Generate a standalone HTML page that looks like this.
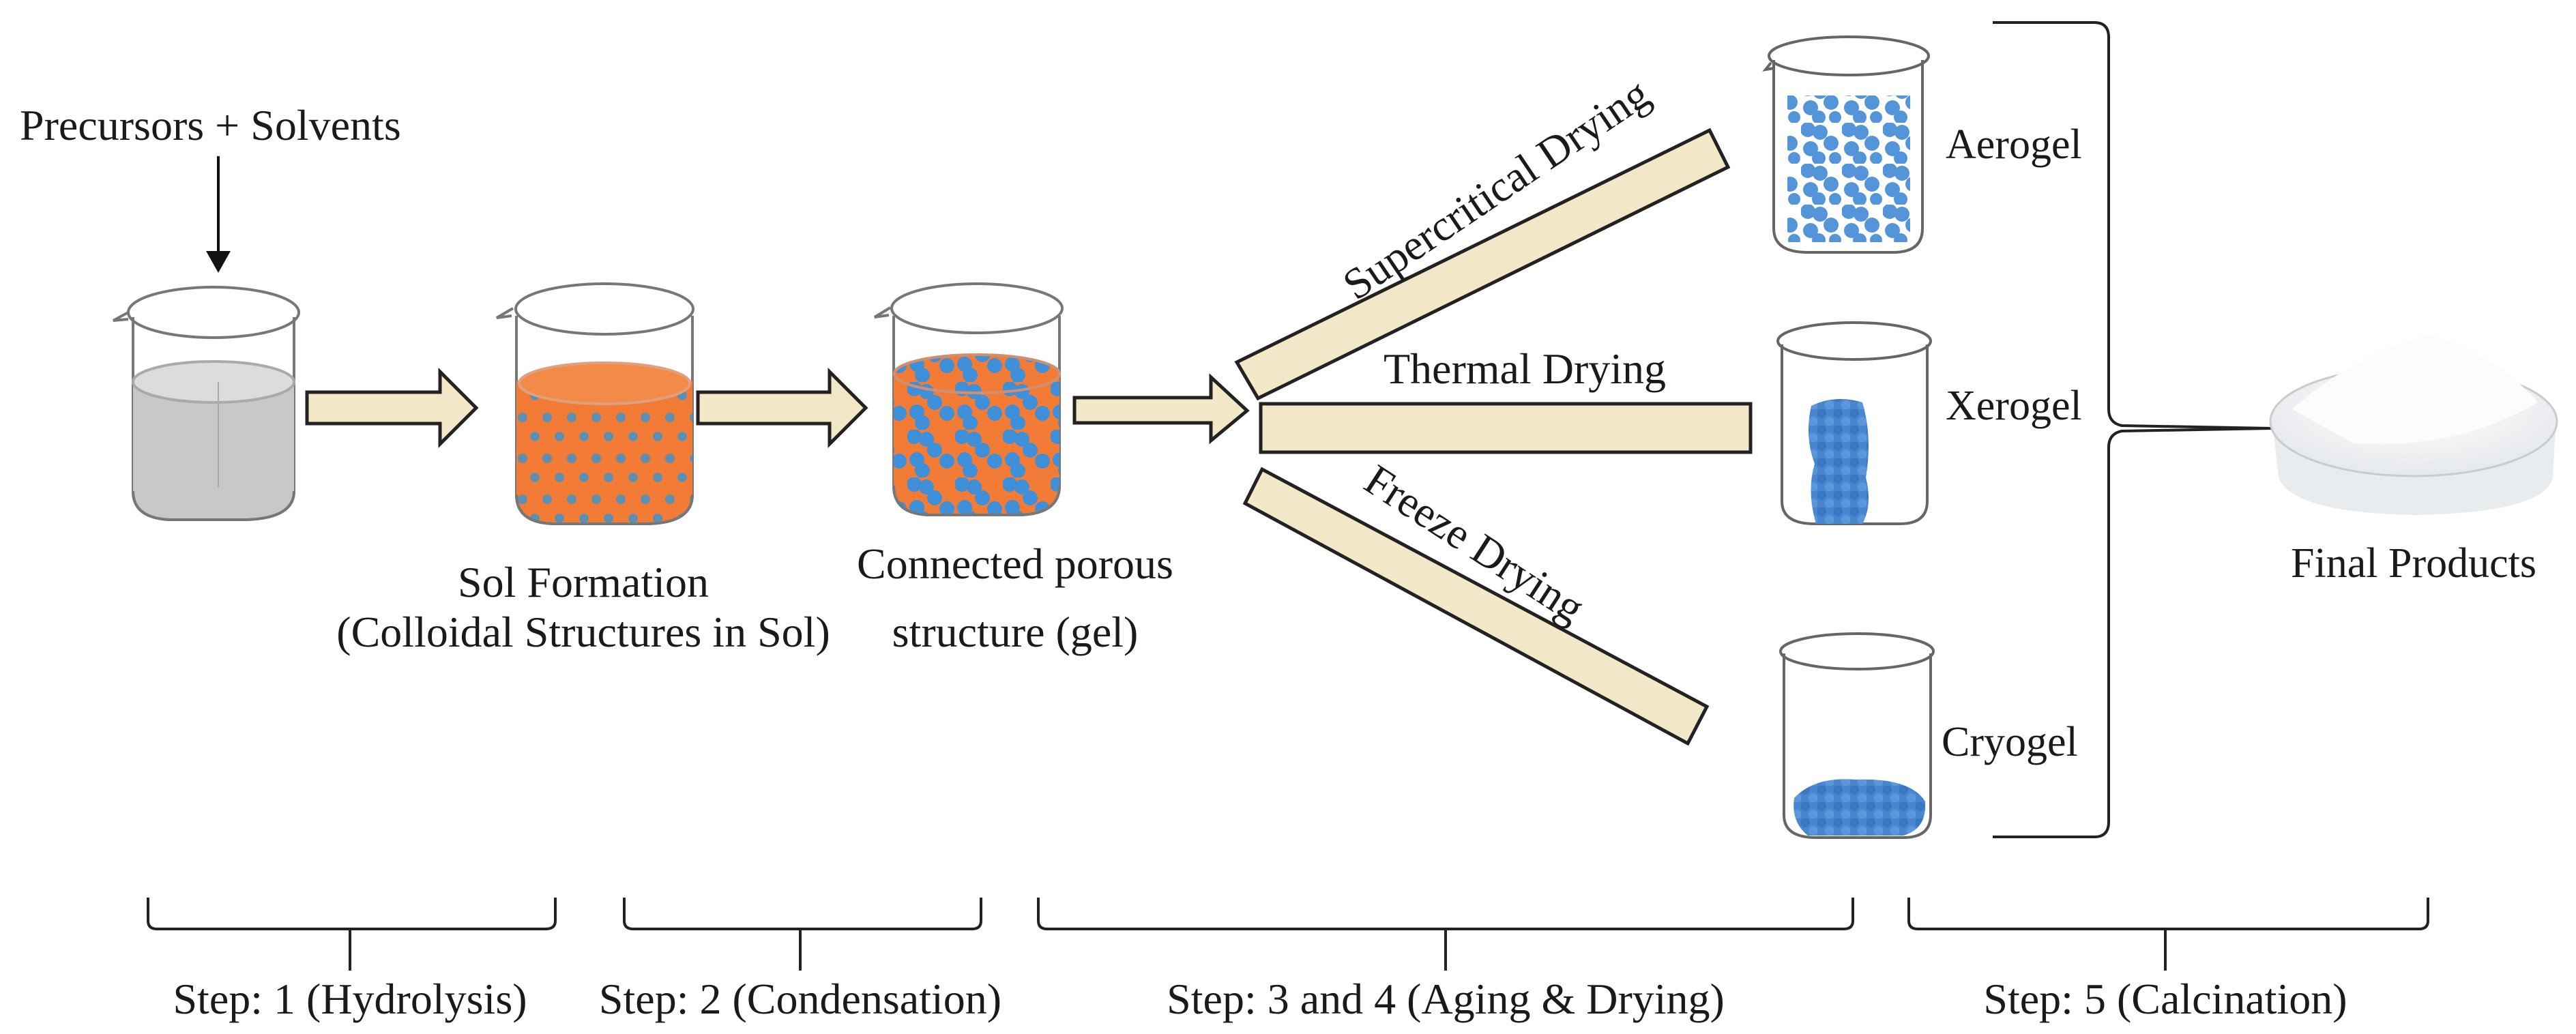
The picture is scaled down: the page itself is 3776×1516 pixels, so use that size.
<!DOCTYPE html>
<html><head><meta charset="utf-8"><style>
html,body{margin:0;padding:0;background:#fff}
svg{display:block}
text{font-family:"Liberation Serif",serif;fill:#1a1a1a}
</style></head><body>
<svg width="3776" height="1516" viewBox="0 0 3776 1516" xmlns="http://www.w3.org/2000/svg">
<defs>
<pattern id="sol" width="36" height="60" patternUnits="userSpaceOnUse">
<rect width="36" height="60" fill="#f27c35"/>
<circle cx="10" cy="12" r="7" fill="#5d8fb3"/><circle cx="28" cy="40" r="7" fill="#5d8fb3"/>
</pattern>
<pattern id="gel" width="70" height="70" patternUnits="userSpaceOnUse">
<rect width="70" height="70" fill="#f27c35"/>
<circle cx="10" cy="10" r="11" fill="#3f8fd9"/><circle cx="28" cy="14" r="11" fill="#3f8fd9"/><circle cx="40" cy="30" r="11" fill="#3f8fd9"/>
<circle cx="58" cy="46" r="11" fill="#3f8fd9"/><circle cx="14" cy="44" r="11" fill="#3f8fd9"/><circle cx="22" cy="60" r="11" fill="#3f8fd9"/>
</pattern>
<pattern id="aero" width="60" height="60" patternUnits="userSpaceOnUse">
<circle cx="10" cy="10" r="11" fill="#4a8fd6"/><circle cx="28" cy="14" r="11" fill="#4a8fd6"/><circle cx="44" cy="30" r="11" fill="#4a8fd6"/>
<circle cx="14" cy="38" r="11" fill="#4a8fd6"/><circle cx="26" cy="52" r="10" fill="#4a8fd6"/><circle cx="50" cy="52" r="9" fill="#4a8fd6"/>
</pattern>
<pattern id="dense" width="24" height="24" patternUnits="userSpaceOnUse">
<rect width="24" height="24" fill="#4a86cf"/>
<circle cx="6" cy="6" r="7" fill="#3a78c4"/><circle cx="18" cy="18" r="7" fill="#5a96da"/>
</pattern>
<radialGradient id="dishg" cx="0.5" cy="0.4" r="0.6"><stop offset="0" stop-color="#fdfdfe"/><stop offset="1" stop-color="#e6e9ec"/></radialGradient>
</defs>

<text x="29" y="205" font-size="64">Precursors + Solvents</text>
<line x1="320" y1="229" x2="320" y2="370" stroke="#111" stroke-width="4"/>
<polygon points="302,368 338,368 320,400" fill="#111"/>

<g stroke="#777" stroke-width="4" fill="none">
<path d="M195,465 L195,720 Q195,760 250,762 L360,762 Q431,760 431,720 L431,465" fill="#fff"/>
<path d="M195,560 L195,720 Q195,760 250,762 L360,762 Q431,760 431,720 L431,560 Z" fill="#c8c8c8" stroke="none"/>
<ellipse cx="313" cy="560" rx="118" ry="30" fill="#dcdcdc" stroke="#aaa"/>
<line x1="320" y1="560" x2="320" y2="715" stroke="#aaa" stroke-width="2"/>
<path d="M195,720 Q195,760 250,762 L360,762 Q431,760 431,720" />
<ellipse cx="313" cy="458" rx="125" ry="37"/>
<path d="M188,468 L166,470 L188,458"/>
</g>

<polygon points="450,575 645,575 645,545 698,598 645,651 645,621 450,621" fill="#f2e7c6" stroke="#222" stroke-width="5"/>

<g stroke="#777" stroke-width="4" fill="none">
<path d="M757,463 L757,725 Q757,768 815,768 L945,768 Q1015,768 1015,725 L1015,463" fill="#fff"/>
<path d="M757,558 L757,725 Q757,768 815,768 L945,768 Q1015,768 1015,725 L1015,558 Z" fill="url(#sol)" stroke="none"/>
<ellipse cx="886" cy="562" rx="125" ry="30" fill="#f28a48" stroke="#e0a080"/>
<path d="M757,725 Q757,768 815,768 L945,768 Q1015,768 1015,725"/>
<ellipse cx="886" cy="453" rx="130" ry="37"/>
<path d="M750,463 L728,466 L752,452"/>
</g>

<polygon points="1023,575 1216,575 1216,545 1269,598 1216,651 1216,621 1023,621" fill="#f2e7c6" stroke="#222" stroke-width="5"/>

<g stroke="#777" stroke-width="4" fill="none">
<path d="M1310,463 L1310,712 Q1310,755 1365,755 L1490,755 Q1553,755 1553,712 L1553,463" fill="#fff"/>
<path d="M1310,548 L1310,712 Q1310,755 1365,755 L1490,755 Q1553,755 1553,712 L1553,548 Z" fill="url(#gel)" stroke="none"/>
<ellipse cx="1432" cy="548" rx="121" ry="28" fill="url(#gel)" stroke="#d09070"/>
<path d="M1310,712 Q1310,755 1365,755 L1490,755 Q1553,755 1553,712"/>
<ellipse cx="1432" cy="452" rx="125" ry="36"/>
<path d="M1303,462 L1282,465 L1305,451"/>
</g>

<polygon points="1575,583 1775,583 1775,553 1828,602 1775,646 1775,620 1575,620" fill="#f2e7c6" stroke="#222" stroke-width="5"/>

<text x="855" y="875" font-size="64" text-anchor="middle">Sol Formation</text>
<text x="855" y="948" font-size="64" text-anchor="middle">(Colloidal Structures in Sol)</text>
<text x="1488" y="848" font-size="64" text-anchor="middle">Connected porous</text>
<text x="1488" y="948" font-size="64" text-anchor="middle">structure (gel)</text>

<polygon points="1813,531 2506,191 2533,245 1844,584" fill="#f2e7c6" stroke="#222" stroke-width="5"/>
<rect x="1848" y="592" width="718" height="71" fill="#f2e7c6" stroke="#222" stroke-width="5"/>
<polygon points="1825,738 1850,688 2502,1036 2474,1090" fill="#f2e7c6" stroke="#222" stroke-width="5"/>

<text font-size="64" text-anchor="middle" transform="translate(2205,295) rotate(-34)">Supercritical Drying</text>
<text x="2235" y="562" font-size="64" text-anchor="middle">Thermal Drying</text>
<text font-size="64" text-anchor="middle" transform="translate(2150,815) rotate(33)">Freeze Drying</text>

<g stroke="#666" stroke-width="4" fill="none">
<path d="M2600,88 L2600,335 Q2600,370 2650,370 L2775,370 Q2818,370 2818,335 L2818,88" fill="#fff"/>
<ellipse cx="2710" cy="82" rx="117" ry="28"/>
<path d="M2596,92 L2588,102 L2600,100"/>
</g>
<rect x="2620" y="140" width="180" height="215" fill="url(#aero)" opacity="0.95"/>
<text x="2852" y="232" font-size="62">Aerogel</text>

<g stroke="#666" stroke-width="4" fill="none">
<path d="M2612,505 L2612,735 Q2612,768 2660,768 L2785,768 Q2825,768 2825,735 L2825,505" fill="#fff"/>
<ellipse cx="2718" cy="500" rx="112" ry="27"/>
</g>
<path d="M2655,595 Q2690,578 2730,590 Q2745,640 2735,700 Q2745,740 2730,768 L2662,768 Q2648,720 2660,680 Q2645,640 2655,595 Z" fill="url(#dense)"/>
<text x="2852" y="615" font-size="62">Xerogel</text>

<g stroke="#666" stroke-width="4" fill="none">
<path d="M2615,958 L2615,1195 Q2615,1228 2662,1228 L2790,1228 Q2830,1228 2830,1195 L2830,958" fill="#fff"/>
<ellipse cx="2722" cy="955" rx="112" ry="26"/>
</g>
<path d="M2630,1170 Q2660,1138 2720,1143 Q2800,1140 2822,1175 Q2825,1215 2790,1225 L2650,1225 Q2625,1205 2630,1170 Z" fill="url(#dense)"/>
<text x="2846" y="1108" font-size="62">Cryogel</text>

<path d="M2921,33 L3070,33 Q3091,33 3091,55 L3091,600 Q3091,620 3110,624 L3331,628 L3110,632 Q3091,636 3091,656 L3091,1205 Q3091,1227 3070,1227 L2921,1227" fill="none" stroke="#222" stroke-width="4"/>

<path d="M3330,610 L3340,700 Q3360,752 3540,755 Q3730,752 3742,700 L3747,610 Z" fill="#e9ecee"/>
<ellipse cx="3538" cy="618" rx="210" ry="80" fill="url(#dishg)" stroke="#c8cccf" stroke-width="3"/>
<path d="M3360,600 Q3450,520 3560,490 Q3660,520 3720,590 Q3600,660 3450,650 Z" fill="#fafcfd"/>
<text x="3538" y="846" font-size="62" text-anchor="middle">Final Products</text>

<g fill="none" stroke="#222" stroke-width="4">
<path d="M217,1316 L217,1350 Q217,1362 230,1362 L800,1362 Q814,1362 814,1350 L814,1316 M513,1362 L513,1423"/>
<path d="M915,1316 L915,1350 Q915,1362 928,1362 L1425,1362 Q1438,1362 1438,1350 L1438,1316 M1173,1362 L1173,1423"/>
<path d="M1522,1316 L1522,1350 Q1522,1362 1535,1362 L2703,1362 Q2716,1362 2716,1350 L2716,1316 M2119,1362 L2119,1423"/>
<path d="M2798,1316 L2798,1350 Q2798,1362 2811,1362 L3546,1362 Q3559,1362 3559,1350 L3559,1316 M3174,1362 L3174,1423"/>
</g>
<text x="513" y="1486" font-size="64" text-anchor="middle">Step: 1 (Hydrolysis)</text>
<text x="1173" y="1486" font-size="64" text-anchor="middle">Step: 2 (Condensation)</text>
<text x="2119" y="1486" font-size="64" text-anchor="middle">Step: 3 and 4 (Aging &amp; Drying)</text>
<text x="3174" y="1486" font-size="64" text-anchor="middle">Step: 5 (Calcination)</text>
</svg>
</body></html>
